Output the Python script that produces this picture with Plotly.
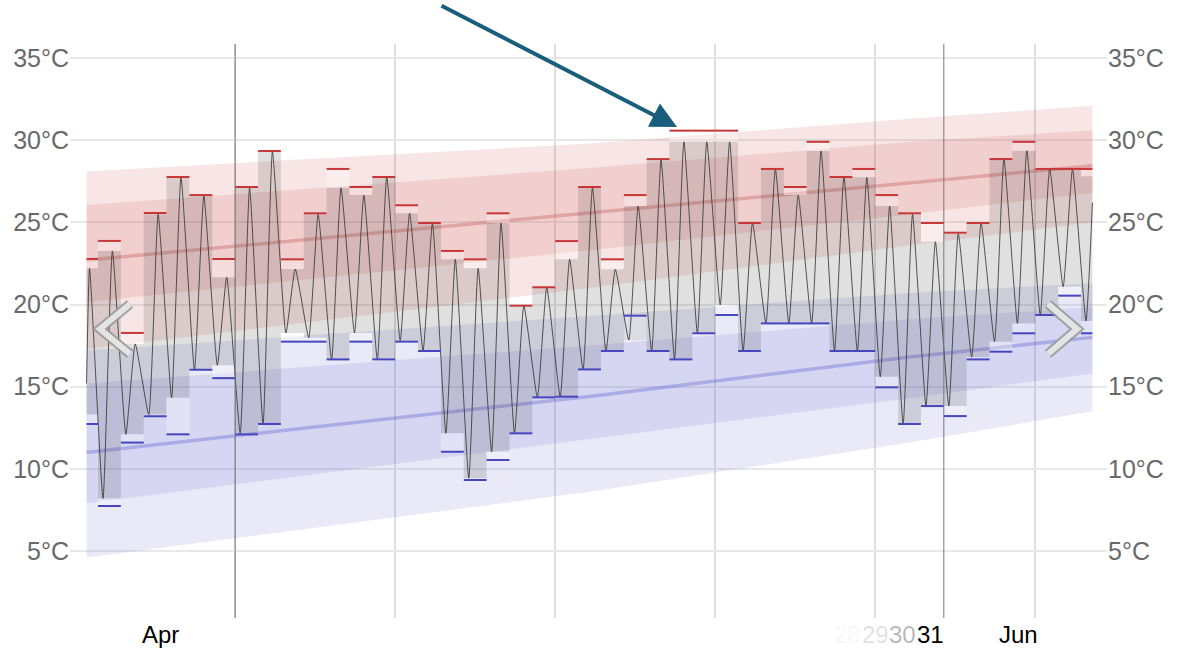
import plotly.graph_objects as go

# ---------------------------------------------------------------------------
# Data
# ---------------------------------------------------------------------------
# Column index of each day (-1 and 43 are the half days at both ends)
day_index = list(range(-1, 44))

# Observed daily maximum / minimum (°C)
obs_high = [22.2, 23.26, 17.6, 25.5, 27.75, 26.6, 21.66, 27.1, 29.3, 22.16,
            25.5, 27.1, 26.66, 27.76, 25.55, 24.96, 22.75, 22.2, 24.96, 19.93,
            21.05, 22.75, 27.1, 22.14, 25.99, 28.8, 29.9, 29.9, 29.9, 24.96,
            28.25, 26.66, 29.34, 27.76, 27.74, 25.99, 25.5, 23.82, 24.32, 24.96,
            28.85, 29.36, 28.25, 28.25, 27.8]
obs_low = [13.3, 8.2, 12.1, 13.3, 14.33, 16.03, 16.3, 12.16, 12.7, 18.27,
           17.98, 16.66, 18.27, 16.66, 17.8, 17.2, 12.16, 9.43, 11.04, 12.16,
           14.35, 14.39, 16.05, 17.17, 17.84, 17.17, 16.66, 18.25, 19.97, 17.17,
           18.85, 18.85, 18.85, 17.17, 17.17, 15.6, 12.73, 13.82, 13.82, 16.8,
           17.74, 18.85, 19.36, 21.08, 19.0]

# Forecast daily maximum / minimum (°C)
fc_high = [22.77, 23.87, 18.27, 25.57, 27.76, 26.66, 22.77, 27.15, 29.34, 22.75,
           25.55, 28.25, 27.15, 27.76, 26.04, 24.96, 23.26, 22.75, 25.55, 19.93,
           21.05, 23.86, 27.15, 22.75, 26.66, 28.85, 30.58, 30.58, 30.58, 24.96,
           28.25, 27.15, 29.9, 27.76, 28.25, 26.66, 25.55, 24.96, 24.37, 24.96,
           28.85, 29.9, 28.25, 28.25, 28.25]
fc_low = [12.73, 7.74, 11.6, 13.2, 12.1, 16.03, 15.52, 12.1, 12.73, 17.74,
          17.74, 16.66, 17.74, 16.66, 17.74, 17.17, 11.04, 9.32, 10.54, 12.16,
          14.35, 14.39, 16.05, 17.17, 19.32, 17.17, 16.66, 18.25, 19.36, 17.17,
          18.85, 18.85, 18.85, 17.17, 17.17, 14.96, 12.73, 13.82, 13.21, 16.66,
          17.13, 18.25, 19.36, 20.54, 18.25]

# Temperature at the edges of the window (°C)
line_start_temp = 15.2
line_end_temp = 26.2

# Climate normals, sampled along the window
band_days = [-0.5, 21.5, 35.5, 43.5]
max_p90 = [28.1, 29.8, 31.3, 32.1]
max_p75 = [26.05, 28.3, 29.9, 30.6]
max_p50 = [22.7, 25.55, 27.4, 28.45]
max_p25 = [20.15, 23.3, 25.5, 26.8]
max_p10 = [17.3, 21.0, 23.6, 25.0]
min_p90 = [17.2, 19.3, 20.7, 21.3]
min_p75 = [15.2, 17.5, 19.1, 19.85]
min_p50 = [11.0, 14.4, 16.8, 18.0]
min_p25 = [7.9, 11.8, 14.3, 15.8]
min_p10 = [4.6, 8.6, 11.6, 13.5]

# Axis ticks and labels
temp_ticks = [5, 10, 15, 20, 25, 30, 35]
temp_labels = [f"{t}°C" for t in temp_ticks]
week_lines = [6, 13, 20, 27, 34, 41]
month_lines = [6, 37]
date_labels = [("Apr", 2.75, "rgba(0,0,0,1)"),
               ("28", 32.8, "rgba(0,0,0,0.05)"),
               ("29", 34.0, "rgba(0,0,0,0.13)"),
               ("30", 35.2, "rgba(0,0,0,0.3)"),
               ("31", 36.42, "rgba(0,0,0,1)"),
               ("Jun", 40.25, "rgba(0,0,0,1)")]

# ---------------------------------------------------------------------------
# Geometry
# ---------------------------------------------------------------------------
W, H = 1177, 651
ML, MR, MT, MB = 70, 70, 44, 33
X_START, X_END = -0.5, 43.5
X_RANGE = [-1.2248, 44.138]
Y_RANGE = [0.923, 35.853]
TROUGH_FRAC, PEAK_FRAC = 0.22, 0.63

RED = "rgba(205,80,80,0.15)"
BLUE = "rgba(110,110,210,0.15)"
BOX_GREY = "rgba(45,45,45,0.15)"
BOX_WHITE = "rgba(255,255,255,0.3)"

fig = go.Figure()


def add_band(lower, upper, color):
    fig.add_trace(go.Scatter(x=band_days, y=lower, mode="lines",
                             line=dict(width=0), hoverinfo="skip",
                             showlegend=False))
    fig.add_trace(go.Scatter(x=band_days, y=upper, mode="lines",
                             line=dict(width=0), fill="tonexty",
                             fillcolor=color, hoverinfo="skip",
                             showlegend=False))


add_band(max_p10, max_p90, RED)
add_band(max_p25, max_p75, RED)
add_band(min_p10, min_p90, BLUE)
add_band(min_p25, min_p75, BLUE)

fig.add_trace(go.Scatter(x=band_days, y=max_p50, mode="lines",
                         line=dict(color="rgba(205,110,110,0.45)", width=3.5),
                         hoverinfo="skip", showlegend=False))
fig.add_trace(go.Scatter(x=band_days, y=min_p50, mode="lines",
                         line=dict(color="rgba(120,120,215,0.45)", width=3.5),
                         hoverinfo="skip", showlegend=False))


def day_span(k):
    return max(k, X_START), min(k + 1, X_END)


# Daily observed range boxes
bx, by = [], []
for k, lo, hi in zip(day_index, obs_low, obs_high):
    x0, x1 = day_span(k)
    bx += [x0, x1, x1, x0, x0, None]
    by += [lo, lo, hi, hi, lo, None]
fig.add_trace(go.Scatter(x=bx, y=by, mode="lines", fill="toself",
                         fillcolor=BOX_GREY, line=dict(width=0),
                         hoverinfo="skip", showlegend=False))

# Gap between forecast and observed extremes
wx, wy = [], []
for k, lo, hi, flo, fhi in zip(day_index, obs_low, obs_high, fc_low, fc_high):
    x0, x1 = day_span(k)
    for a, b in ((lo, flo), (hi, fhi)):
        if abs(a - b) > 0.05:
            y0, y1 = min(a, b), max(a, b)
            wx += [x0, x1, x1, x0, x0, None]
            wy += [y0, y0, y1, y1, y0, None]
fig.add_trace(go.Scatter(x=wx, y=wy, mode="lines", fill="toself",
                         fillcolor=BOX_WHITE, line=dict(width=0),
                         hoverinfo="skip", showlegend=False))

# Temperature trace through each day's low and high
lx, ly = [X_START], [line_start_temp]
for k, lo, hi in zip(day_index, obs_low, obs_high):
    if X_START < k + TROUGH_FRAC < X_END:
        lx.append(k + TROUGH_FRAC)
        ly.append(lo)
    if X_START < k + PEAK_FRAC < X_END:
        lx.append(k + PEAK_FRAC)
        ly.append(hi)
lx.append(X_END)
ly.append(line_end_temp)
fig.add_trace(go.Scatter(x=lx, y=ly, mode="lines",
                         line=dict(color="rgba(55,55,55,0.85)", width=1,
                                   shape="spline", smoothing=0.45),
                         hoverinfo="skip", showlegend=False))

# Forecast max / min ticks
for vals, color in ((fc_high, "rgb(200,55,55)"), (fc_low, "rgb(70,70,190)")):
    mx, my = [], []
    for k, v in zip(day_index, vals):
        x0, x1 = day_span(k)
        mx += [x0, x1, None]
        my += [v, v, None]
    fig.add_trace(go.Scatter(x=mx, y=my, mode="lines",
                             line=dict(color=color, width=2),
                             hoverinfo="skip", showlegend=False))

# Invisible trace so that the right-hand axis is drawn
fig.add_trace(go.Scatter(x=[day_index[1]], y=[fc_low[1]], yaxis="y2",
                         mode="markers", marker=dict(opacity=0),
                         hoverinfo="skip", showlegend=False))

# Month boundary lines
shapes = []
for d in month_lines:
    shapes.append(dict(type="line", xref="x", yref="paper", x0=d, x1=d,
                       y0=0, y1=1, layer="above",
                       line=dict(color="rgb(120,120,120)", width=1)))


# Carousel chevrons
def px_path(points):
    pts = [((x - ML) / (W - ML - MR), (H - MB - y) / (H - MT - MB))
           for x, y in points]
    return "M " + " L ".join(f"{a:.4f},{b:.4f}" for a, b in pts)


for pts in ([(130, 304), (100, 329), (130, 354)],
            [(1048, 304), (1077, 329), (1048, 354)]):
    path = px_path(pts)
    shapes.append(dict(type="path", xref="paper", yref="paper", path=path,
                       layer="above",
                       line=dict(color="rgba(150,150,150,0.85)", width=10)))
    shapes.append(dict(type="path", xref="paper", yref="paper", path=path,
                       layer="above",
                       line=dict(color="rgba(232,232,232,0.95)", width=6)))

annotations = []
label_y = (H - MB - 634) / (H - MT - MB)
for text, x, color in date_labels:
    annotations.append(dict(text=text, x=x, xref="x", y=label_y, yref="paper",
                            xanchor="center", yanchor="middle",
                            showarrow=False, borderpad=0,
                            font=dict(size=24, color=color,
                                      family="Arial, Liberation Sans")))

# Pointer to the highest forecast
annotations.append(dict(text="", x=25.33, y=30.8, xref="x", yref="y",
                        showarrow=True, ax=-237, ay=-122,
                        arrowcolor="rgb(25,94,124)", arrowwidth=4,
                        arrowhead=2, arrowsize=1.3, standoff=0))

axis_font = dict(size=25, color="rgb(105,105,105)",
                 family="Arial, Liberation Sans")
fig.update_layout(
    width=W, height=H,
    margin=dict(l=ML, r=MR, t=MT, b=MB, pad=0),
    paper_bgcolor="white", plot_bgcolor="white",
    showlegend=False,
    xaxis=dict(range=X_RANGE, tickvals=week_lines, showticklabels=False,
               showgrid=True, gridcolor="rgb(222,222,222)", gridwidth=1.5,
               zeroline=False, showline=False, ticks=""),
    yaxis=dict(range=Y_RANGE, tickvals=temp_ticks, ticktext=temp_labels,
               showgrid=True, gridcolor="rgb(232,232,232)", gridwidth=1.5,
               zeroline=False, showline=False, ticks="", tickfont=axis_font),
    yaxis2=dict(range=Y_RANGE, tickvals=temp_ticks, ticktext=temp_labels,
                overlaying="y", side="right", showgrid=False,
                zeroline=False, showline=False, ticks="", tickfont=axis_font),
    shapes=shapes,
    annotations=annotations,
)

fig.write_html("out.html")
